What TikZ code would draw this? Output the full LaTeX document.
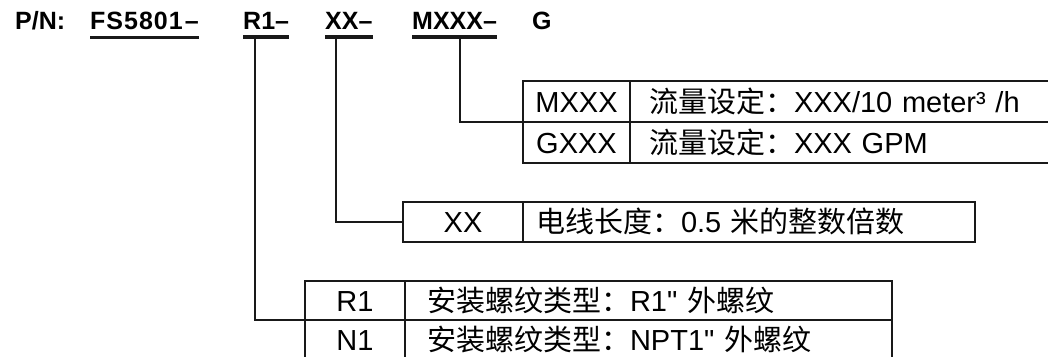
\documentclass[tikz,border=0pt]{standalone}
\usepackage{fontspec}
\setmainfont{Liberation Sans}
\newfontfamily\cjk{Noto Sans CJK SC}
\newcommand\inchmark{\XeTeXglyph\XeTeXcharglyph"22\relax}
\usetikzlibrary{positioning}

\begin{document}
\begin{tikzpicture}[x=1pt,y=-1pt]
    \useasboundingbox (0,0) rectangle (1048,356);
    \clip (0,0) rectangle (1048,356);
    \tikzstyle{code} = [inner sep=0pt, anchor=base west, font=\bfseries\fontsize{25}{30}\selectfont]
    \tikzstyle{uline} = [line width=3.5pt, draw=black!90]
    \tikzstyle{keycell} = [rectangle, draw=black!90, line width=2.7pt, outer sep=0pt, inner ysep=0pt, minimum height=41pt, text height=23pt, text depth=2pt, anchor=north west, font=\fontsize{29}{34}\selectfont]
    \tikzstyle{textcell} = [keycell, align=left]
    \tikzstyle{link} = [line width=2pt, draw=black!90]

    % part number
    \node (pn) [code] at (15,29) {P/N:};
    \node (fs) [code] at (90,29) {F\kern1ptS\kern1pt5\kern1pt8\kern1pt0\kern1pt1\kern2pt–};
    \node (r1) [code] at (243,29) {R1–};
    \node (xx) [code] at (325,29) {XX–};
    \node (mx) [code] at (412,29) {MXXX–};
    \node (g) [code] at (532,29) {G};
    \foreach \n in {fs,r1,xx,mx}
        \draw [uline] ([yshift=-8pt]\n.south west) -- ([yshift=-8pt]\n.south east);

    % flow setting
    \node (mkey) [keycell, minimum width=107pt] at (523,81) {MXXX};
    \node (mtxt) [textcell, inner xsep=19pt, text width=420pt] at (mkey.north east) {{\cjk 流量设定：}XXX/10 meter³ /h};
    \node (gkey) [keycell, minimum width=107pt] at (mkey.south west) {GXXX};
    \node (gtxt) [textcell, inner xsep=19pt, text width=420pt] at (gkey.north east) {{\cjk 流量设定：}XXX GPM};

    % cable length
    \node (xkey) [keycell, minimum width=120pt, minimum height=40pt] at (403,202) {XX};
    \node (xtxt) [textcell, inner xsep=13pt, minimum height=40pt, text width=426pt] at (xkey.north east) {{\cjk 电线长度：}0.5 {\cjk 米的整数倍数}};

    % thread type
    \node (rkey) [keycell, minimum width=100pt, minimum height=39pt] at (305,281) {R1};
    \node (rtxt) [textcell, inner xsep=22pt, minimum height=39pt, text width=443pt] at (rkey.north east) {{\cjk 安装螺纹类型：}R1\inchmark\ {\cjk 外螺纹}};
    \node (nkey) [keycell, minimum width=100pt, minimum height=39pt] at (rkey.south west) {N1};
    \node (ntxt) [textcell, inner xsep=22pt, minimum height=39pt, text width=443pt] at (nkey.north east) {{\cjk 安装螺纹类型：}NPT1\inchmark\ {\cjk 外螺纹}};

    \draw [link] ([xshift=5pt,yshift=-8pt]mx.south) |- (mkey.south west);
    \draw [link] ([xshift=-13pt,yshift=-8pt]xx.south) |- (xkey.west);
    \draw [link] ([xshift=-11pt,yshift=-8pt]r1.south) |- (rkey.south west);
\end{tikzpicture}
\end{document}
